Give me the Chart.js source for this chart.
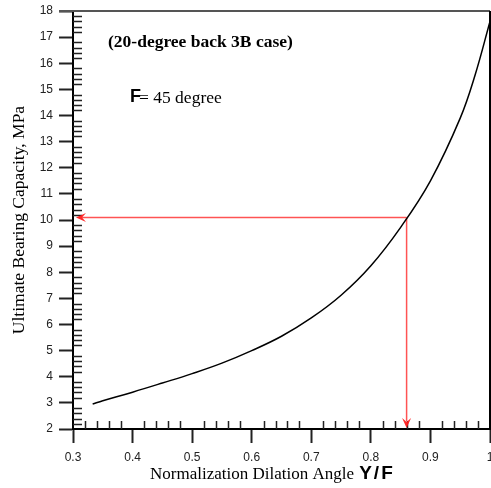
<!DOCTYPE html>
<html>
<head>
<meta charset="utf-8">
<script src="https://cdn.jsdelivr.net/npm/chart.js@4/dist/chart.umd.min.js"></script>
<style>
 html, body { margin: 0; padding: 0; background: #fff; }
 #wrap { width: 491px; height: 488px; }
</style>
</head>
<body>
<div id="wrap"><canvas id="bearingChart" width="491" height="488"></canvas></div>
<script>
// normalized dilation angle (psi/phi) and ultimate bearing capacity (MPa)
const angleRatio = [0.333, 0.35, 0.4, 0.45, 0.5, 0.55, 0.6, 0.65, 0.7, 0.75, 0.8, 0.85, 0.9, 0.95, 0.975, 1.0];
const capacity = [2.96, 3.08, 3.41, 3.76, 4.12, 4.52, 5.0, 5.55, 6.25, 7.12, 8.25, 9.72, 11.5, 13.9, 15.55, 17.6];

// read-off guide (red arrows)
const guidePoint = [0.86, 10.1];
const guideLeftEnd = 0.305;
const guideBottomEnd = 2;

const xTickLabels = ["0.3", "0.4", "0.5", "0.6", "0.7", "0.8", "0.9", "1"];
const yTickLabels = ["2", "3", "4", "5", "6", "7", "8", "9", "10", "11", "12", "13", "14", "15", "16", "17", "18"];

const caseTitle = "(20-degree back 3B case)";
const phiSymbol = "F";
const phiText = "= 45 degree";
const yTitle = "Ultimate Bearing Capacity, MPa";
const xTitle = "Normalization Dilation Angle ";
const xTitleSymbol = "Y/F";

const SERIF = "'Liberation Serif', 'Times New Roman', serif";
const SANS = "'Liberation Sans', Arial, sans-serif";
const RED = "rgba(255,40,40,0.8)";

const overlay = {
 id: "overlay",
 afterDatasetsDraw(chart) {
  const ctx = chart.ctx;
  const a = chart.chartArea;
  const xs = chart.scales.x;
  const ys = chart.scales.y;
  ctx.save();

  // top and right frame
  ctx.strokeStyle = "#555";
  ctx.lineWidth = 2;
  ctx.beginPath();
  ctx.moveTo(a.left - 14, a.top);
  ctx.lineTo(a.right, a.top);
  ctx.stroke();
  ctx.strokeStyle = "#000";
  ctx.beginPath();
  ctx.moveTo(a.right, a.top);
  ctx.lineTo(a.right, a.bottom);
  ctx.stroke();

  // minor ticks, pointing inward
  ctx.lineWidth = 1.5;
  ctx.strokeStyle = "#222";
  ctx.beginPath();
  for (let i = 1; i < 35; i++) {
   if (i % 5 === 0) continue;
   const px = Math.round(xs.getPixelForValue(0.3 + i * 0.02)) + 0.5;
   ctx.moveTo(px, a.bottom);
   ctx.lineTo(px, a.bottom - 8);
  }
  for (let i = 1; i < 80; i++) {
   if (i % 5 === 0) continue;
   const py = Math.round(ys.getPixelForValue(2 + i * 0.2)) + 0.5;
   ctx.moveTo(a.left, py);
   ctx.lineTo(a.left + 9, py);
  }
  ctx.stroke();

  // arrow heads on the guide lines
  const gx = xs.getPixelForValue(guidePoint[0]);
  const gy = ys.getPixelForValue(guidePoint[1]);
  const lx = xs.getPixelForValue(guideLeftEnd);
  const by = ys.getPixelForValue(guideBottomEnd);
  ctx.fillStyle = "rgba(255,30,30,0.95)";
  ctx.beginPath();
  ctx.moveTo(lx, gy);
  ctx.lineTo(lx + 10, gy - 4.5);
  ctx.lineTo(lx + 6, gy);
  ctx.lineTo(lx + 10, gy + 4.5);
  ctx.closePath();
  ctx.fill();
  ctx.beginPath();
  ctx.moveTo(gx, by - 1);
  ctx.lineTo(gx - 4.5, by - 11);
  ctx.lineTo(gx, by - 7);
  ctx.lineTo(gx + 4.5, by - 11);
  ctx.closePath();
  ctx.fill();

  // annotations
  ctx.fillStyle = "#000";
  ctx.textBaseline = "middle";
  ctx.textAlign = "left";
  ctx.font = "bold 17.5px " + SERIF;
  ctx.fillText(caseTitle, 108, 42);
  ctx.font = "bold 18px " + SANS;
  ctx.fillText(phiSymbol, 130, 97);
  const fw = ctx.measureText(phiSymbol).width;
  ctx.font = "17.5px " + SERIF;
  ctx.fillText(phiText, 130 + fw - 2, 98);

  // axis titles
  ctx.font = "17px " + SERIF;
  const w1 = ctx.measureText(xTitle).width;
  const x0 = 150;
  ctx.fillText(xTitle, x0, 475);
  ctx.font = "bold 19px " + SANS;
  ctx.letterSpacing = "2px";
  ctx.fillText(xTitleSymbol, x0 + w1 + 1, 474);
  ctx.letterSpacing = "0px";

  ctx.translate(19, (a.top + a.bottom) / 2);
  ctx.rotate(-Math.PI / 2);
  ctx.textAlign = "center";
  ctx.font = "17.5px " + SERIF;
  ctx.fillText(yTitle, 0, 0);
  ctx.restore();
 },
};

document.addEventListener("DOMContentLoaded", () => {
 const ctx = document.getElementById("bearingChart").getContext("2d");
 const curve = angleRatio.map((x, i) => ({ x: x, y: capacity[i] }));

 new Chart(ctx, {
  type: "scatter",
  data: {
   datasets: [
    {
     label: "capacity",
     data: curve,
     showLine: true,
     borderColor: "#000",
     borderWidth: 1.5,
     pointRadius: 0,
     tension: 0.4,
    },
    {
     label: "guide horizontal",
     data: [
      { x: guidePoint[0], y: guidePoint[1] },
      { x: guideLeftEnd + 0.01, y: guidePoint[1] },
     ],
     showLine: true,
     borderColor: RED,
     borderWidth: 1.5,
     pointRadius: 0,
    },
    {
     label: "guide vertical",
     data: [
      { x: guidePoint[0], y: guidePoint[1] },
      { x: guidePoint[0], y: guideBottomEnd + 0.3 },
     ],
     showLine: true,
     borderColor: RED,
     borderWidth: 1.5,
     pointRadius: 0,
    },
   ],
  },
  options: {
   responsive: false,
   animation: false,
   layout: { padding: { top: 11, right: 1, left: 0, bottom: 0 } },
   plugins: {
    legend: { display: false },
    tooltip: { enabled: false },
   },
   scales: {
    x: {
     type: "linear",
     min: 0.3,
     max: 1,
     afterFit: (s) => {
      s.height = 59;
      s.paddingLeft = 0;
      s.paddingRight = 0;
     },
     afterBuildTicks: (s) => {
      s.ticks = xTickLabels.map((t) => ({ value: parseFloat(t) }));
     },
     ticks: {
      padding: 7,
      color: "#222",
      font: { family: SANS, size: 12 },
      callback: (v, i) => xTickLabels[i],
     },
     grid: {
      drawOnChartArea: false,
      drawTicks: true,
      tickLength: 14,
      tickWidth: 2,
      tickColor: "#222",
     },
     border: { display: true, color: "#000", width: 2 },
    },
    y: {
     type: "linear",
     min: 2,
     max: 18,
     afterFit: (s) => {
      s.width = 73;
      s.paddingTop = 0;
      s.paddingBottom = 0;
     },
     afterBuildTicks: (s) => {
      s.ticks = yTickLabels.map((t) => ({ value: parseFloat(t) }));
     },
     ticks: {
      padding: 6,
      color: "#222",
      font: { family: SANS, size: 12 },
      callback: (v, i) => yTickLabels[i],
     },
     grid: {
      drawOnChartArea: false,
      drawTicks: true,
      tickLength: 14,
      tickWidth: 2,
      tickColor: "#222",
     },
     border: { display: true, color: "#000", width: 2 },
    },
   },
  },
  plugins: [overlay],
 });
});
</script>
</body>
</html>
